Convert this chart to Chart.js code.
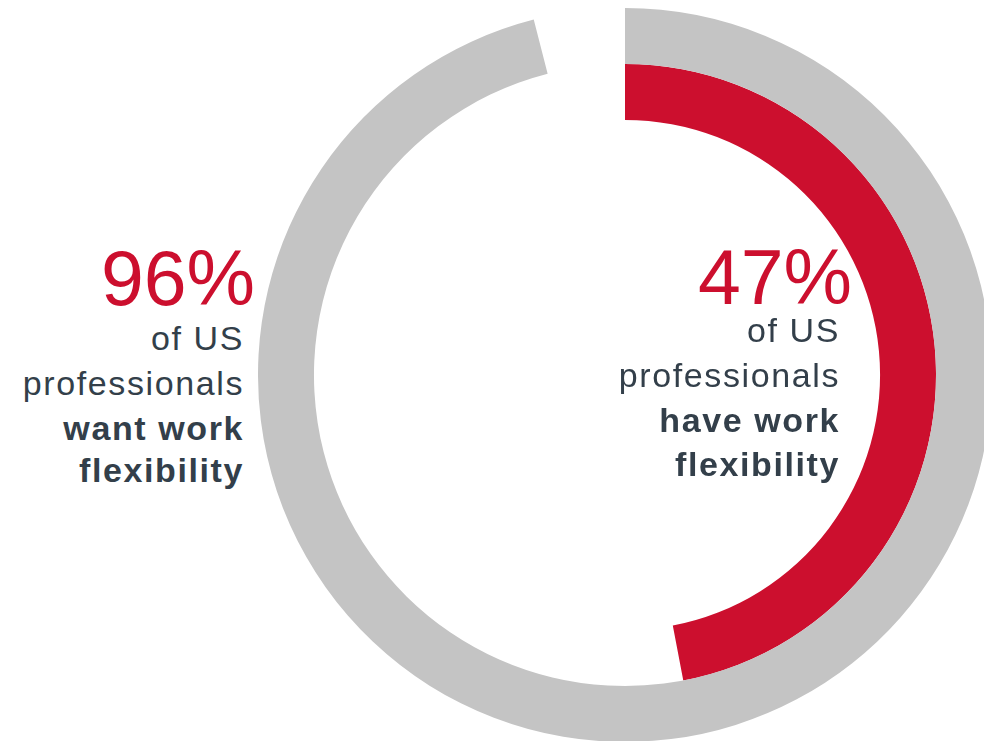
<!DOCTYPE html>
<html>
<head>
<meta charset="utf-8">
<script src="https://cdn.jsdelivr.net/npm/chart.js@4"></script>
<style>
    html, body { margin: 0; padding: 0; width: 984px; height: 741px; overflow: hidden; background: #fff; }
    .chart-box { position: absolute; left: 258px; top: 8px; width: 734px; height: 734px; }
    .txt { position: absolute; text-align: right; white-space: nowrap; font-family: "Liberation Sans", Arial, sans-serif; line-height: 1; }
    .big { font-size: 77px; color: #cc0f2e; }
    .line { font-size: 34px; color: #333f4a; letter-spacing: 1.6px; }
    .bold { font-weight: bold; }
</style>
</head>
<body>
<div class="chart-box"><canvas id="rings"></canvas></div>

<div class="txt big" style="right:729px; top:240px;">96%</div>
<div class="txt line" style="right:740px; top:321px;">of US</div>
<div class="txt line" style="right:740px; top:366px;">professionals</div>
<div class="txt line bold" style="right:740px; top:411px;">want work</div>
<div class="txt line bold" style="right:740px; top:453px;">flexibility</div>

<div class="txt big" style="right:132px; top:239px;">47%</div>
<div class="txt line" style="right:144px; top:313px;">of US</div>
<div class="txt line" style="right:144px; top:358px;">professionals</div>
<div class="txt line bold" style="right:144px; top:403px;">have work</div>
<div class="txt line bold" style="right:144px; top:447px;">flexibility</div>

<script>
// outer ring first, inner ring second
var categories = ['want work flexibility', 'have work flexibility'];
var shares = [96, 47];
var ringColors = ['#c4c4c4', '#cc0f2e'];

var datasets = [];
for (var i = 0; i < shares.length; i++) {
    datasets.push({
        label: categories[i],
        data: [shares[i], 100 - shares[i]],
        backgroundColor: [ringColors[i], 'rgba(0,0,0,0)'],
        borderWidth: 0
    });
}

new Chart(document.getElementById('rings'), {
    type: 'doughnut',
    data: {
        labels: ['share', 'rest'],
        datasets: datasets
    },
    options: {
        responsive: true,
        maintainAspectRatio: false,
        animation: false,
        events: [],
        cutout: '69.5%',
        layout: { padding: 0 },
        plugins: {
            legend: { display: false },
            tooltip: { enabled: false }
        }
    }
});
</script>
</body>
</html>
